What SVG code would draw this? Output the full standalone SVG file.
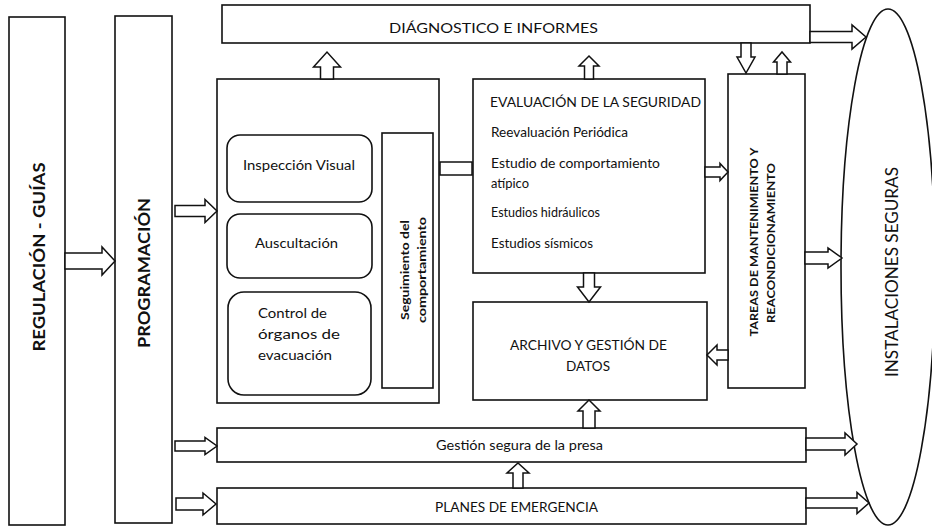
<svg xmlns="http://www.w3.org/2000/svg" width="932" height="528" viewBox="0 0 932 528">
<style>
.box{fill:#fff;stroke:#111;stroke-width:1.6}
.arr{fill:#fff;stroke:#111;stroke-width:1.5;stroke-linejoin:miter}
text{font-family:Lato,"Open Sans","Liberation Sans",sans-serif;fill:#111}
.b{font-weight:bold}
.t14{font-size:14px}
.t13{font-size:13.5px}
.t12{font-size:12.5px}
.mid{text-anchor:middle}
</style>
<rect width="932" height="528" fill="#fff"/>
<g id="regulacion">
<rect class="box" x="9" y="17" width="56" height="508"/>
<text class="b mid" font-size="17" transform="translate(45,257) rotate(-90)" textLength="189" lengthAdjust="spacingAndGlyphs">REGULACIÓN - GUÍAS</text>
</g>
<g id="programacion">
<rect class="box" x="115" y="16" width="57" height="507"/>
<text class="b mid" font-size="17" transform="translate(150,273) rotate(-90)" textLength="150" lengthAdjust="spacingAndGlyphs">PROGRAMACIÓN</text>
</g>
<g id="diagnostico">
<rect class="box" x="222" y="5" width="588" height="38"/>
<text class="t14 mid" x="493.5" y="33" textLength="209" lengthAdjust="spacingAndGlyphs">DIÁGNOSTICO E INFORMES</text>
</g>
<g id="monitoreo">
<rect class="box" x="217" y="79" width="222" height="324"/>
</g>
<g id="inspeccion">
<rect class="box" x="227" y="135" width="145" height="67" rx="13"/>
<text class="t13 mid" x="299" y="170" textLength="112" lengthAdjust="spacingAndGlyphs">Inspección Visual</text>
</g>
<g id="auscultacion">
<rect class="box" x="227" y="214" width="145" height="64" rx="13"/>
<text class="t13 mid" x="296.5" y="248" textLength="83" lengthAdjust="spacingAndGlyphs">Auscultación</text>
</g>
<g id="control">
<rect class="box" x="228" y="292" width="143" height="103" rx="16"/>
<text class="t13" x="258" y="318" textLength="69" lengthAdjust="spacingAndGlyphs">Control de</text>
<text class="t13" x="258" y="339" textLength="82" lengthAdjust="spacingAndGlyphs">órganos de</text>
<text class="t13" x="258" y="360" textLength="74" lengthAdjust="spacingAndGlyphs">evacuación</text>
</g>
<g id="seguimiento">
<rect class="box" x="382" y="133" width="51" height="255"/>
<text class="b mid" font-size="11.5" transform="translate(409,270) rotate(-90)" textLength="100" lengthAdjust="spacingAndGlyphs">Seguimiento del</text>
<text class="b mid" font-size="11.5" transform="translate(426,270) rotate(-90)" textLength="106" lengthAdjust="spacingAndGlyphs">comportamiento</text>
</g>
<g id="evaluacion">
<rect class="box" x="473" y="79" width="232" height="194"/>
<text class="t13" x="490" y="107" textLength="211" lengthAdjust="spacingAndGlyphs">EVALUACIÓN DE LA SEGURIDAD</text>
<text class="t12" x="491" y="137" textLength="137" lengthAdjust="spacingAndGlyphs">Reevaluación Periódica</text>
<text class="t12" x="491" y="168" textLength="169" lengthAdjust="spacingAndGlyphs">Estudio de comportamiento</text>
<text class="t12" x="491" y="188" textLength="38" lengthAdjust="spacingAndGlyphs">atípico</text>
<text class="t12" x="491" y="217" textLength="109" lengthAdjust="spacingAndGlyphs">Estudios hidráulicos</text>
<text class="t12" x="491" y="248" textLength="102" lengthAdjust="spacingAndGlyphs">Estudios sísmicos</text>
</g>
<g id="tareas">
<rect class="box" x="728" y="74" width="77" height="314"/>
<text class="b mid" font-size="12" transform="translate(758,242) rotate(-90)" textLength="189" lengthAdjust="spacingAndGlyphs">TAREAS DE MANTENIMIENTO Y</text>
<text class="b mid" font-size="12" transform="translate(775,243) rotate(-90)" textLength="160" lengthAdjust="spacingAndGlyphs">REACONDICIONAMIENTO</text>
</g>
<g id="archivo">
<rect class="box" x="473" y="302" width="234" height="98"/>
<text class="t13 mid" x="588.5" y="350" textLength="157" lengthAdjust="spacingAndGlyphs">ARCHIVO Y GESTIÓN DE</text>
<text class="t13 mid" x="588" y="371" textLength="44" lengthAdjust="spacingAndGlyphs">DATOS</text>
</g>
<g id="gestion">
<rect class="box" x="217" y="428" width="589" height="34"/>
<text class="t13" x="436" y="450" textLength="167" lengthAdjust="spacingAndGlyphs">Gestión segura de la presa</text>
</g>
<g id="planes">
<rect class="box" x="217" y="488" width="589" height="36"/>
<text class="t13" x="435" y="512" textLength="163" lengthAdjust="spacingAndGlyphs">PLANES DE EMERGENCIA</text>
</g>
<g id="instalaciones">
<ellipse class="box" cx="888" cy="267" rx="47" ry="258"/>
<text class="mid" font-size="17" transform="translate(898,272) rotate(-90)" textLength="210" lengthAdjust="spacingAndGlyphs">INSTALACIONES SEGURAS</text>
</g>
<g id="connectors">
<polygon class="arr" points="65,253 102,253 102,247 115,261 102,275 102,269 65,269"/>
<polygon class="arr" points="175,205.5 205,205.5 205,199.5 217,211 205,222.5 205,216.5 175,216.5"/>
<polygon class="arr" points="175,441 205,441 205,437.5 217,446 205,454.5 205,451 175,451"/>
<polygon class="arr" points="176,498 203,498 203,493 216,504 203,515 203,510 176,510"/>
<polygon class="arr" points="320.5,79 320.5,67 313.5,67 327,52 340.5,67 333.5,67 333.5,79"/>
<polygon class="arr" points="584.5,79 584.5,66 579,66 589,56 599,66 593.5,66 593.5,79"/>
<rect class="arr" x="440" y="162" width="32" height="13"/>
<polygon class="arr" points="705,167 720,167 720,163.5 728,172 720,180.5 720,177 705,177"/>
<polygon class="arr" points="741,43 741,57 737,57 746,73 755,57 751,57 751,43"/>
<polygon class="arr" points="777,74 777,62 773.5,62 782,52 790.5,62 787,62 787,74"/>
<polygon class="arr" points="810,31.5 852,31.5 852,25 866,37 852,49 852,42.5 810,42.5"/>
<polygon class="arr" points="805,252 828,252 828,248 842,258 828,268 828,264 805,264"/>
<polygon class="arr" points="728,350 717,350 717,345 707,355 717,365 717,360 728,360"/>
<polygon class="arr" points="583.5,273 583.5,287 577.5,287 589,302 600.5,287 594.5,287 594.5,273"/>
<polygon class="arr" points="583,428 583,411 578,411 589,400 600,411 595,411 595,428"/>
<polygon class="arr" points="513,488 513,473 507,473 518,463 529,473 523,473 523,488"/>
<polygon class="arr" points="806,438 845,438 845,433 857,444 845,455 845,450 806,450"/>
<polygon class="arr" points="806,498 857,498 857,492.5 869,503 857,513.5 857,508 806,508"/>
</g>
</svg>
